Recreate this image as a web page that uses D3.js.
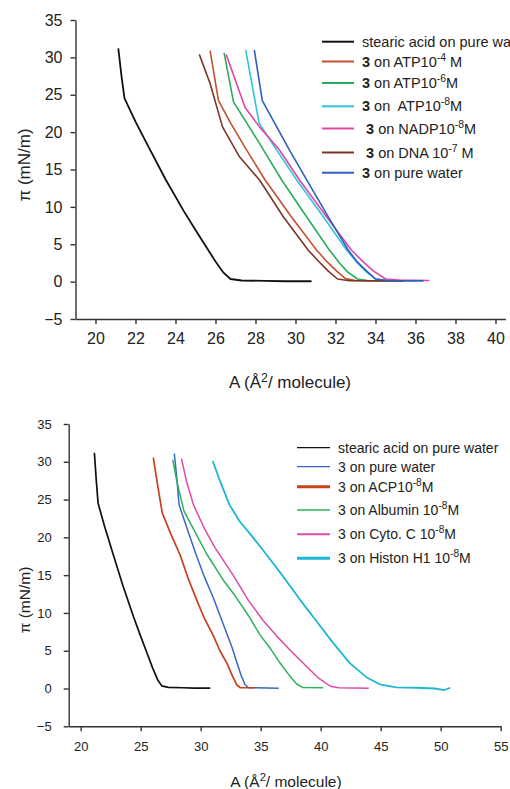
<!DOCTYPE html>
<html>
<head>
  <meta charset="utf-8">
  <script src="https://d3js.org/d3.v7.min.js"></script>
  <style>
    body { margin: 0; background: #fff; }
    svg text { font-family: Arial, "Liberation Sans", sans-serif; fill: #222; white-space: pre; }
    .axis path, .axis line { stroke: #333; stroke-width: 1.4; }
  </style>
</head>
<body>
  <svg id="chart" width="510" height="789"></svg>
  <script>
    // --- data: [A (Å²/molecule), π (mN/m)]

    // stearic acid, same isotherm in both panels
    const stearic = [[21.14, 31.2], [21.3, 27.5], [21.45, 24.5], [22.0, 21.4], [22.6, 18.3], [23.5, 13.7],
      [24.4, 9.5], [25.0, 6.9], [25.5, 4.8], [26.0, 2.7], [26.4, 1.2], [26.75, 0.35], [27.3, 0.15],
      [28.5, 0.1], [29.5, 0.05], [30.8, 0.05]];

    // top panel, compound 3 on nucleotides
    const atp4 = [[25.73, 30.9], [26.15, 24.2], [26.8, 21.0], [27.56, 17.6], [28.48, 13.6], [29.8, 8.65],
      [31.06, 4.2], [31.6, 2.6], [32.06, 1.4], [32.5, 0.4], [33.0, 0.15], [34.2, 0.1], [35.5, 0.1]];
    const atp6 = [[26.43, 30.6], [26.9, 24.05], [28.2, 18.5], [29.31, 13.6], [30.56, 8.65], [31.7, 4.2],
      [32.2, 2.5], [32.6, 1.3], [33.1, 0.35], [33.6, 0.15], [35.0, 0.1]];
    const atp8 = [[27.51, 31.0], [28.18, 21.2], [29.06, 17.6], [30.06, 13.6], [31.4, 8.65], [32.56, 4.2],
      [33.1, 2.5], [33.5, 1.4], [34.0, 0.35], [34.6, 0.15], [36.0, 0.1]];
    const nadp8 = [[26.53, 30.4], [27.48, 23.3], [28.2, 20.7], [29.2, 17.6], [30.2, 13.6], [31.56, 8.65],
      [32.8, 4.2], [33.4, 2.6], [33.9, 1.4], [34.5, 0.35], [35.2, 0.2], [36.7, 0.15]];
    const dna7 = [[25.19, 30.4], [25.73, 26.5], [26.35, 20.7], [27.2, 16.7], [28.2, 13.6], [29.4, 8.65],
      [30.64, 4.2], [31.2, 2.6], [31.64, 1.4], [32.1, 0.35], [32.7, 0.12], [35.4, 0.1]];
    const pureTop = [[27.94, 31.0], [28.34, 24.2], [29.7, 17.6], [30.56, 13.6], [31.64, 8.65], [32.64, 4.2],
      [33.1, 2.6], [33.56, 1.4], [34.0, 0.35], [34.6, 0.15], [36.4, 0.1]];

    // bottom panel, compound 3 on proteins
    const pureBot = [[27.8, 31.1], [28.0, 28.0], [28.2, 24.3], [28.9, 21.0], [29.6, 17.8], [30.3, 14.8],
      [31.05, 12.0], [32.0, 8.0], [32.6, 5.5], [33.0, 3.5], [33.4, 1.6], [33.7, 0.5], [34.0, 0.1], [36.5, 0.05]];
    const acp8 = [[26.05, 30.55], [26.4, 27.0], [26.8, 23.2], [27.5, 20.5], [28.3, 17.6], [28.97, 14.5],
      [29.67, 11.7], [30.3, 9.3], [31.05, 7.0], [31.6, 5.0], [32.2, 3.3], [32.6, 1.8], [33.0, 0.5],
      [33.3, 0.1], [34.5, 0.1]];
    const albumin8 = [[27.67, 30.3], [28.0, 27.5], [28.6, 23.5], [29.5, 20.8], [30.5, 17.8], [31.9, 14.3],
      [32.9, 12.2], [34.0, 9.6], [34.9, 7.2], [35.8, 5.3], [36.6, 3.4], [37.4, 1.7], [38.0, 0.6],
      [38.5, 0.15], [40.2, 0.1]];
    const cyto8 = [[28.4, 30.4], [28.8, 27.5], [29.4, 24.3], [30.3, 21.2], [31.2, 18.6], [32.7, 15.0],
      [34.0, 11.6], [35.2, 9.0], [36.3, 7.0], [37.5, 5.0], [38.7, 3.1], [39.8, 1.4], [40.8, 0.3],
      [41.5, 0.1], [44.0, 0.05]];
    const histon8 = [[31.0, 30.1], [31.6, 27.5], [32.4, 24.3], [33.3, 22.0], [34.1, 20.5], [35.2, 18.3],
      [36.6, 15.4], [38.3, 11.7], [39.7, 8.8], [41.0, 6.1], [42.4, 3.4], [43.8, 1.5], [45.0, 0.5],
      [46.3, 0.15], [48.0, 0.1], [49.5, 0.0], [50.3, -0.2], [50.8, 0.1]];

    // legend labels, text between ^ marks is superscript
    const topLabels = ['stearic acid on pure water', '3 on ATP10^-4^ M', '3 on ATP10^-6^M', '3 on  ATP10^-8^M',
      ' 3 on NADP10^-8^M', ' 3 on DNA 10^-7^ M', '3 on pure water'];
    const bottomLabels = ['stearic acid on pure water', '3 on pure water', '3 on ACP10^-8^M',
      '3 on Albumin 10^-8^M', '3 on Cyto. C 10^-8^M', '3 on Histon H1 10^-8^M'];

    const topSeries = [stearic, atp4, atp6, atp8, nadp8, dna7, pureTop];
    const bottomSeries = [stearic, pureBot, acp8, albumin8, cyto8, histon8];

    const xTicksTop = d3.range(20, 41, 2);
    const xTicksBottom = d3.range(20, 56, 5);
    const yTicks = d3.range(-5, 36, 5);

    const topColors = ['#111111', '#c4512e', '#27ad5a', '#2ec4dc', '#e046a6', '#7a3628', '#2f5fc0'];
    const topWidths = [1.8, 1.6, 1.6, 1.6, 1.6, 1.6, 1.6];
    const bottomColors = ['#111111', '#3a66c4', '#c7411d', '#2bb35c', '#de4aa8', '#1db6d4'];
    const bottomWidths = [1.7, 1.5, 1.7, 1.5, 1.5, 1.8];
    const bottomKeyWidths = [1.3, 1.3, 3, 1.5, 2, 3];

    const svg = d3.select('#chart');

    // writes "3 on ATP10^-4^ M" as tspans, raising the ^ parts
    function writeLabel(text, label, boldThree) {
      let raised = false;
      label.split('^').forEach((part, i) => {
        if (i % 2 === 1) {
          text.append('tspan').attr('dy', -6).attr('font-size', '0.72em').text(part);
          raised = true;
          return;
        }
        let rest = part;
        if (i === 0 && boldThree) {
          const k = part.indexOf('3');
          if (k >= 0) {
            if (k > 0) text.append('tspan').text(part.slice(0, k));
            text.append('tspan').attr('font-weight', 'bold').text('3');
            rest = part.slice(k + 1);
          }
        }
        const t = text.append('tspan').text(rest);
        if (raised) { t.attr('dy', 6); raised = false; }
      });
    }

    function drawPanel(p) {
      const g = svg.append('g');

      const xAxis = d3.axisBottom(p.x).tickValues(p.xTicks).tickSize(5).tickSizeOuter(0).tickPadding(p.xPad);
      g.append('g').attr('class', 'axis')
        .attr('transform', `translate(0,${p.y(-5)})`)
        .call(xAxis)
        .call(a => a.selectAll('text').attr('font-size', p.tickFont).attr('fill', '#222'));

      const yAxis = d3.axisLeft(p.y).tickValues(yTicks).tickSize(5).tickSizeOuter(0).tickPadding(p.yPad);
      g.append('g').attr('class', 'axis')
        .attr('transform', `translate(${p.x(19)},0)`)
        .call(yAxis)
        .call(a => a.selectAll('text').attr('font-size', p.tickFont).attr('fill', '#222'));

      // straight segments: the isotherms have sharp kinks at the phase change
      const line = d3.line().x(d => p.x(d[0])).y(d => p.y(d[1]));
      p.series.forEach((s, i) => {
        g.append('path')
          .attr('d', line(s))
          .attr('fill', 'none')
          .attr('stroke', p.colors[i])
          .attr('stroke-width', p.widths[i])
          .attr('stroke-linejoin', 'round');
      });

      // y title
      g.append('text')
        .attr('transform', `translate(${p.yTitleX},${p.yTitleY}) rotate(-90)`)
        .attr('text-anchor', 'middle')
        .attr('font-size', p.titleFont)
        .text('π (mN/m)');

      // x title with superscript 2
      const xt = g.append('text')
        .attr('x', p.xTitleX).attr('y', p.xTitleY)
        .attr('text-anchor', 'middle')
        .attr('font-size', p.titleFont);
      writeLabel(xt, 'A (Å^2^/ molecule)', false);

      // legend
      p.labels.forEach((lab, i) => {
        const ly = p.keyY[i];
        g.append('line')
          .attr('x1', p.keyX).attr('x2', p.keyX + p.keyLen)
          .attr('y1', ly).attr('y2', ly)
          .attr('stroke', p.colors[i])
          .attr('stroke-width', p.keyWidths[i]);
        const t = g.append('text')
          .attr('x', p.keyX + p.keyLen + p.keyGap).attr('y', ly + 5)
          .attr('font-size', p.keyFont)
          .attr('fill', '#111');
        writeLabel(t, lab, p.boldThree);
      });
    }

    // top panel
    drawPanel({
      x: d3.scaleLinear().domain([19, 40.5]).range([75.5, 505.5]),
      y: d3.scaleLinear().domain([-5, 35]).range([319, 20]),
      xTicks: xTicksTop, xPad: 9, yPad: 8, tickFont: 16,
      series: topSeries, colors: topColors, widths: topWidths,
      titleFont: 17, yTitleX: 30, yTitleY: 165, xTitleX: 290, xTitleY: 388,
      labels: topLabels, keyX: 322, keyLen: 32, keyGap: 8, keyFont: 14.5, boldThree: true,
      keyY: [41.7, 61.5, 83, 106.3, 128.5, 152.5, 172.7],
      keyWidths: [2, 2, 2, 2, 2, 2, 2]
    });

    // bottom panel
    drawPanel({
      x: d3.scaleLinear().domain([19, 55]).range([68.7, 500.7]),
      y: d3.scaleLinear().domain([-5, 35]).range([726.3, 424]),
      xTicks: xTicksBottom, xPad: 10, yPad: 12, tickFont: 13,
      series: bottomSeries, colors: bottomColors, widths: bottomWidths,
      titleFont: 15.5, yTitleX: 30, yTitleY: 600, xTitleX: 286, xTitleY: 787,
      labels: bottomLabels, keyX: 297, keyLen: 33, keyGap: 8, keyFont: 14, boldThree: false,
      keyY: [447.7, 466.7, 486.7, 510, 534.3, 558.3],
      keyWidths: bottomKeyWidths
    });
  </script>
</body>
</html>
